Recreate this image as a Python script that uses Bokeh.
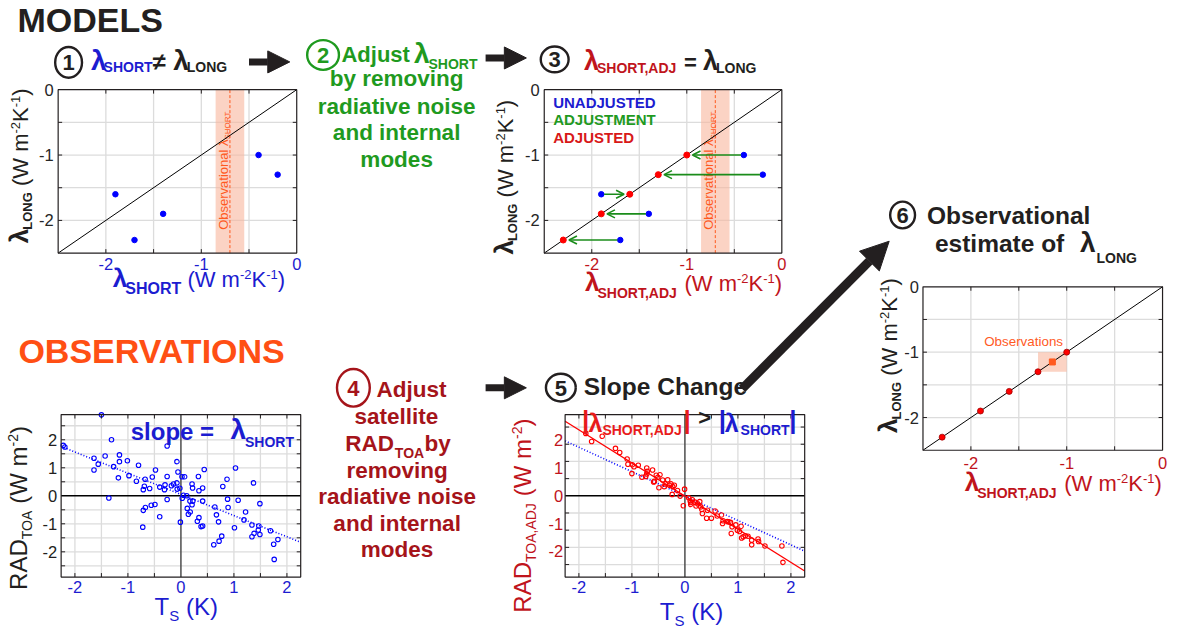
import numpy as np
from bokeh.plotting import figure
from bokeh.models import Range1d, Arrow, NormalHead, OpenHead, ColumnDataSource
from bokeh.core.properties import value
from bokeh.embed import file_html
from bokeh.resources import INLINE

# ---------------- data ----------------
# climate models: short-term vs long-term feedback (W m-2 K-1)
model_short = [-1.9, -1.7, -1.4, -0.4, -0.2]
model_long = [-1.6, -2.3, -1.9, -1.0, -1.3]
model_short_adj = [-1.6, -2.3, -1.9, -1.0, -1.3]
one_to_one = [-2.5, 0.0]
obs_band = [-0.85, -0.55]
obs_short = [-0.7]
obs_box = [-1.3, -1.0]
obs_est = [-1.15]
model_ticks = [-2, -1, 0]
model_grid = [-2.0, -1.5, -1.0, -0.5]

# observations: surface temperature anomaly (K) vs TOA radiation (W m-2)
ts_obs = [
    -2.22, -2.19, -1.50, -1.31, -1.64, -1.64, -1.56, -1.43, -1.16, -1.16,
    -1.27, -1.18, -1.01, -0.98, -0.80, -0.84, -1.36, -0.675, -0.69, -0.71,
    -0.59, -0.48, -0.54, -0.26, -0.26, -0.40, -0.30, -0.31, -0.18, -0.14,
    -0.075, -0.056, -0.075, -0.07, -0.02, -0.26, -0.49, -0.56, -0.67, -0.71,
    -0.40, -0.72, -0.01, 0.02, 0.07, 0.05, 0.11, 0.025, 0.21, 0.22,
    0.33, 0.44, 0.41, 0.34, 0.17, 0.21, 0.12, 0.175, 0.14, 0.225,
    0.41, 0.34, 0.31, 0.38, 0.41, 0.64, 0.67, 0.71, 0.79, 0.87,
    0.88, 0.89, 1.03, 1.08, 1.01, 0.77, 0.72, 0.62, 1.19, 1.22,
    1.37, 1.34, 1.49, 1.47, 1.46, 1.49, 1.38, 1.34, 1.69, 1.75,
    1.83, 1.76]
rad_obs = [
    1.80, 1.74, 2.89, 2.00, 1.34, 0.92, 1.13, 1.42, 1.46, 1.22,
    1.04, 0.64, 1.25, 0.72, 1.09, 0.52, -0.08, 0.59, 0.34, 0.22,
    0.26, 0.92, 0.67, 1.78, 0.69, 0.31, 0.39, 0.22, 0.36, 0.42,
    1.22, 0.85, 0.46, 0.24, 0.27, -0.13, -0.31, -0.34, -0.42, -0.52,
    -0.75, -1.12, -0.94, 0.68, 0.68, 0.02, 0.00, -0.09, 0.42, 0.28,
    0.69, 0.94, 0.28, 0.18, -0.19, -0.32, -0.45, -0.58, -0.66, -0.19,
    -0.19, -0.78, -0.91, -1.10, -1.08, -0.40, -0.68, -0.93, 0.33, 0.59,
    -0.12, -0.42, 0.99, -0.16, -1.14, -1.44, -1.62, -1.75, -0.86, -0.58,
    0.46, -1.04, -0.28, -1.08, -1.22, -1.38, -1.34, -1.46, -1.25, -1.73,
    -1.56, -2.27]
ts_adj = [
    -1.87, -1.76, -1.56, -1.31, -1.23, -1.09, -1.075, -0.99, -0.96, -0.88,
    -1.0, -0.81, -0.74, -0.72, -0.71, -0.61, -0.54, -0.51, -0.47, -0.575,
    -0.49, -0.42, -0.37, -0.325, -0.29, -0.26, -0.23, -0.2, -0.24, -0.14,
    -0.09, -0.006, -0.03, 0.07, 0.1, 0.11, 0.14, 0.19, 0.24, 0.28,
    0.3, 0.32, 0.33, 0.425, 0.41, 0.5, 0.57, 0.61, 0.69, 0.71,
    0.72, 0.8, 0.83, 0.875, 0.89, 0.96, 0.99, 1.03, 1.06, 1.07,
    1.1, 1.14, 1.19, 1.26, 1.26, 1.38, 1.39, 1.51, 1.83, 1.85,
    -0.72, -0.59, -0.39, 0.11, 0.21, 0.86]
rad_adj = [
    2.25, 1.96, 2.15, 1.71, 1.56, 1.33, 1.14, 1.12, 1.05, 1.1,
    0.8, 0.67, 0.7, 1.0, 0.88, 0.93, 0.74, 0.67, 0.76, 0.52,
    0.29, 0.57, 0.43, 0.58, 0.38, 0.43, 0.33, 0.38, 0.05, 0.19,
    -0.01, 0.24, -0.36, -0.07, -0.19, -0.31, -0.14, -0.23, -0.29, -0.21,
    -0.4, -0.49, -0.64, -0.52, -0.81, -0.81, -0.55, -0.73, -0.69, -1.0,
    -0.9, -0.93, -0.94, -1.36, -1.12, -1.05, -1.24, -1.29, -1.1, -1.52,
    -1.48, -1.44, -1.46, -1.6, -1.77, -1.56, -1.65, -1.81, -1.81, -2.4,
    0.79, 0.5, 0.33, -0.24, -0.37, -0.96]
fit_x = [-2.26, 2.26]
fit_obs_y = [1.76, -1.66]
fit_obs5_y = [1.98, -2.0]
fit_adj_y = [2.69, -2.71]
ts_ticks = [-2, -1, 0, 1, 2]
ts_grid = [-2.0, -1.5, -1.0, -0.5, 0.5, 1.0, 1.5, 2.0]
rad_ticks = [-2, -1, 0, 1, 2]
rad_grid4 = [-2.5, -2.0, -1.5, -1.0, -0.5, 0.5, 1.0, 1.5, 2.0, 2.5]
rad_grid5 = [-2.48, -1.86, -1.24, -0.62, 0.62, 1.24, 1.86, 2.48]

# ---------------- style ----------------
FONT = "Liberation Sans"
W, H = 1170, 632
RW, RH = 1177, 638
SX, SY = RW / W, RH / H
BLACK = "#231f20"
TICKC = "#262626"
BLUE = "#1c1cd0"
PBLUE = "#0000ff"
GREEN = "#1f9a1f"
AGREEN = "#1a8c1a"
DRED = "#c0141c"
TDRED = "#a5141a"
RED = "#ff0000"
RED5 = "#e81b1b"
ORANGE = "#ff4f14"
OBSC = "#ff5a1f"
BAND = "#f8b59d"
GRID = "#dcdcdc"

# panel frames in page pixels and their data limits
PANELS = {
    "m1": (58, 90, 298, 255, (-2.5, 0.0), (-2.5, 0.0)),
    "m3": (547, 90, 786, 255, (-2.5, 0.0), (-2.5, 0.0)),
    "m6": (928, 289, 1169, 454, (-2.5, 0.0), (-2.5, 0.0)),
    "o4": (61, 418, 302, 582, (-2.26, 2.26), (-2.9, 2.9)),
    "o5": (568, 418, 809, 582, (-2.26, 2.26), (-2.93, 2.93)),
}

p = figure(width=W, height=H, x_range=Range1d(0, RW), y_range=Range1d(RH, 0),
           output_backend="svg", toolbar_location=None, min_border=0,
           x_axis_location=None, y_axis_location=None, outline_line_color=None,
           background_fill_color="white", border_fill_color="white")
p.grid.visible = False

exr, eyr = {}, {}
for name, (L, T, R, B, (x0, x1), (y0, y1)) in PANELS.items():
    kx = (x1 - x0) / (R - L)
    ky = (y1 - y0) / (B - T)
    exr[name] = Range1d(x0 - L * kx, x0 + (RW - L) * kx)
    eyr[name] = Range1d(y1 - (RH - T) * ky, y1 + T * ky)
p.extra_x_ranges = exr
p.extra_y_ranges = eyr


def kxy(name):
    L, T, R, B, (x0, x1), (y0, y1) = PANELS[name]
    return (x1 - x0) / (R - L), (y1 - y0) / (B - T)


def to_px(name, xd):
    L, T, R, B, (x0, x1), (y0, y1) = PANELS[name]
    return L + (xd - x0) / kxy(name)[0]


WR = dict(zip(" ()-,.0123456789=>|", [278, 333, 333, 333, 278, 278] + [556] * 10 + [584, 584, 260]))
WR.update(dict(zip("ABCDEFGHIJKLMNOPQRSTUVWXYZ",
                   [667, 667, 722, 722, 667, 611, 778, 722, 278, 500, 667, 556, 833, 722, 778, 667, 778, 722, 667, 611, 722, 667, 944, 667, 667, 611])))
WR.update(dict(zip("abcdefghijklmnopqrstuvwxyz",
                   [556, 556, 500, 556, 556, 278, 556, 556, 222, 222, 500, 222, 833, 556, 556, 556, 556, 333, 500, 278, 556, 500, 722, 500, 500, 500])))
WR["λ"] = 500
WR["≠"] = 584
WB = dict(zip(" ()-,.0123456789=>|", [278, 333, 333, 333, 278, 278] + [556] * 10 + [584, 584, 280]))
WB.update(dict(zip("ABCDEFGHIJKLMNOPQRSTUVWXYZ",
                   [722, 722, 722, 722, 667, 611, 778, 722, 278, 556, 722, 611, 833, 722, 778, 667, 778, 722, 667, 611, 722, 667, 944, 667, 667, 611])))
WB.update(dict(zip("abcdefghijklmnopqrstuvwxyz",
                   [556, 611, 556, 611, 556, 333, 611, 611, 278, 278, 556, 278, 889, 611, 611, 611, 611, 389, 556, 333, 611, 556, 778, 556, 556, 500])))
WB["λ"] = 556
WB["≠"] = 584

MID = 0.33  # distance (em) from alphabetic baseline to text middle


def tw(s, size, bold):
    t = WB if bold else WR
    return sum(t.get(c, 556) for c in s) * size / 1000.0


def txt(x, y, s, size, color, bold=False, align="left", baseline="alphabetic",
        angle=0.0, xr="default", yr="default"):
    if baseline == "alphabetic":
        if angle == 0:
            y = y - MID * size * SY
        else:
            x = x - MID * size * SX
        baseline = "middle"
    p.text(x=[x], y=[y], text=[s], text_font=value(FONT), text_font_size=f"{size}px",
           text_font_style="bold" if bold else "normal", text_color=color,
           text_align=align, text_baseline=baseline, angle=angle,
           x_range_name=xr, y_range_name=yr)


def rich(x, y, segs, vertical=False):
    """Lay out text runs one after another (sub/superscripts via dy)."""
    pos = 0.0
    scale = SY if vertical else SX
    for seg in segs:
        s, size, bold, color, dy = seg[:5]
        dx = seg[5] if len(seg) > 5 else 0.0
        pos += dx
        lead = len(s) - len(s.lstrip(" "))
        if lead:  # leading blanks collapse in SVG: advance instead
            pos += tw(" " * lead, size, bold) * scale
            s = s.lstrip(" ")
        if vertical:
            txt(x + dy, y - pos, s, size, color, bold, angle=np.pi / 2)
        else:
            txt(x + pos, y + dy, s, size, color, bold)
        pos += tw(s, size, bold) * scale


def grid(name, xg, yg):
    L, T, R, B, (x0, x1), (y0, y1) = PANELS[name]
    kw = dict(x_range_name=name, y_range_name=name)
    p.segment(x0=xg, y0=[y0] * len(xg), x1=xg, y1=[y1] * len(xg), line_color=GRID, line_width=1.3, **kw)
    p.segment(x0=[x0] * len(yg), y0=yg, x1=[x1] * len(yg), y1=yg, line_color=GRID, line_width=1.3, **kw)


def box(name, xg, yg):
    L, T, R, B, (x0, x1), (y0, y1) = PANELS[name]
    kx, ky = kxy(name)
    kw = dict(x_range_name=name, y_range_name=name)
    tl = 4.0
    n, m = len(xg), len(yg)
    p.segment(x0=xg, y0=[y0] * n, x1=xg, y1=[y0 + tl * ky] * n, line_color=BLACK, line_width=1, **kw)
    p.segment(x0=xg, y0=[y1] * n, x1=xg, y1=[y1 - tl * ky] * n, line_color=BLACK, line_width=1, **kw)
    p.segment(x0=[x0] * m, y0=yg, x1=[x0 + tl * kx] * m, y1=yg, line_color=BLACK, line_width=1, **kw)
    p.segment(x0=[x1] * m, y0=yg, x1=[x1 - tl * kx] * m, y1=yg, line_color=BLACK, line_width=1, **kw)
    p.quad(left=[x0], right=[x1], bottom=[y0], top=[y1], fill_color=None,
           line_color=BLACK, line_width=1.2, **kw)


def xticklabels(name, ticks, base_y, color):
    for t in ticks:
        txt(t, base_y, str(t), 16.5, color, align="center", xr=name)


def yticklabels(name, ticks, right_x, color):
    for t in ticks:
        txt(right_x, t, str(t), 16.5, color, align="right", baseline="middle", yr=name)


def numbered(cx, cy, w, h, digit, color):
    p.ellipse(x=[cx], y=[cy], width=[w], height=[h], fill_color="white",
              line_color=color, line_width=2.4)
    txt(cx, cy + 0.5, digit, 22, color, True, align="center", baseline="middle")


def black_arrow(xs, ys, xe, ye, lw, size):
    p.add_layout(Arrow(start=None, end=NormalHead(size=size, fill_color=BLACK, line_color=BLACK),
                       x_start=xs, y_start=ys, x_end=xe, y_end=ye,
                       line_width=lw, line_color=BLACK))


def lam_ylabel(x, y, color):
    rich(x, y, [("λ", 26, True, color, 0), ("LONG", 13, True, color, 4, -1),
                (" (W m", 22, False, color, 0), ("-2", 13, False, color, -8),
                ("K", 22, False, color, 0), ("-1", 13, False, color, -8),
                (")", 22, False, color, 0)], vertical=True)


def lam_xlabel(x, y, sub, color, subsize):
    rich(x, y, [("λ", 26, True, color, 0), (sub, subsize, True, color, 7, -2),
                (" (W m", 22, False, color, 0), ("-2", 13, False, color, -8),
                ("K", 22, False, color, 0), ("-1", 13, False, color, -8),
                (")", 22, False, color, 0)])


def band(name):
    L, T, R, B, (x0, x1), (y0, y1) = PANELS[name]
    kw = dict(x_range_name=name, y_range_name=name)
    p.quad(left=[obs_band[0]], right=[obs_band[1]], bottom=[y0], top=[y1],
           fill_color=BAND, fill_alpha=0.6, line_color=None, **kw)
    p.segment(x0=obs_short, y0=[y0], x1=obs_short, y1=[y1], line_color=OBSC,
              line_width=1, line_dash="3 2", **kw)
    bx = to_px(name, obs_short[0]) - 2.5
    rich(bx, 231.5, [("Observational ", 13, False, OBSC, 0), ("λ", 13, False, OBSC, 0),
                     ("SHORT", 8, False, OBSC, 3)], vertical=True)


# ================= MODELS =================
txt(17, 31.5, "MODELS", 34, BLACK, True)

# --- panel 1 ---
grid("m1", model_grid, model_grid)
band("m1")
p.line(one_to_one, one_to_one, line_color="black", line_width=1, x_range_name="m1", y_range_name="m1")
p.scatter(model_short, model_long, size=5.5, fill_color=PBLUE, line_color=PBLUE,
          x_range_name="m1", y_range_name="m1")
box("m1", model_grid, model_grid)
yticklabels("m1", model_ticks, 53.5, TICKC)
xticklabels("m1", model_ticks, 272, BLUE)
lam_xlabel(113, 289, "SHORT", BLUE, 16)
lam_ylabel(27, 245, BLACK)

numbered(68.5, 62.5, 27, 31, "1", BLACK)
rich(91, 70, [("λ", 28, True, BLUE, 0), ("SHORT", 14, True, BLUE, 2, -3),
              ("≠ ", 24, True, BLACK, 0), ("λ", 28, True, BLACK, 0),
              ("LONG", 14, True, BLACK, 2, -2)])
black_arrow(250, 62, 291, 62, 7, 22)

# --- step 2 text ---
numbered(324.5, 55, 32, 30, "2", GREEN)
rich(343, 62, [("Adjust", 22, True, GREEN, 0), ("λ", 28, True, GREEN, 1, 4),
               ("SHORT", 14, True, GREEN, 7, -1)])
for line, by in [("by removing", 86.7), ("radiative noise", 114), ("and internal", 141), ("modes", 167.7)]:
    txt(398.5, by, line, 22.5, GREEN, True, align="center")
black_arrow(488, 58, 529, 58, 7, 22)

# --- panel 3 ---
grid("m3", model_grid, model_grid)
band("m3")
p.line(one_to_one, one_to_one, line_color="black", line_width=1, x_range_name="m3", y_range_name="m3")
sgn = np.sign(np.array(model_short_adj) - np.array(model_short))
arr_src = ColumnDataSource(dict(
    xs=list(np.array(model_short) + 0.03 * sgn), ys=model_long,
    xe=list(np.array(model_short_adj) - 0.06 * sgn), ye=model_long))
p.add_layout(Arrow(start=None, end=OpenHead(size=8, line_color=AGREEN, line_width=1.6),
                   x_start="xs", y_start="ys", x_end="xe", y_end="ye", source=arr_src,
                   line_color=AGREEN, line_width=1.6, x_range_name="m3", y_range_name="m3"))
p.scatter(model_short, model_long, size=5.5, fill_color=PBLUE, line_color=PBLUE,
          x_range_name="m3", y_range_name="m3")
p.scatter(model_short_adj, model_long, size=6, fill_color=RED, line_color=RED,
          x_range_name="m3", y_range_name="m3")
box("m3", model_grid, model_grid)
yticklabels("m3", model_ticks, 542.5, TICKC)
xticklabels("m3", model_ticks, 272, DRED)
lam_xlabel(588, 293, "SHORT,ADJ", DRED, 14)
lam_ylabel(515, 256.5, BLACK)
txt(556, 108, "UNADJUSTED", 15, BLUE, True)
txt(556, 125.5, "ADJUSTMENT", 15, GREEN, True)
txt(556, 143, "ADJUSTED", 15, "#d81818", True)

numbered(557.5, 59.5, 28, 26, "3", BLACK)
rich(587, 70, [("λ", 27, True, DRED, 0), ("SHORT,ADJ", 14, True, DRED, 3, -2),
               (" = ", 22, True, BLACK, 0), ("λ", 27, True, BLACK, 0),
               ("LONG", 14, True, BLACK, 3, -2)])

# ================= OBSERVATIONS =================
txt(18, 365, "OBSERVATIONS", 34, ORANGE, True)

# --- panel 4 ---
grid("o4", ts_grid, rad_grid4)
p.segment(x0=[fit_x[0]], y0=[0], x1=[fit_x[1]], y1=[0], line_color="black", line_width=1.6,
          x_range_name="o4", y_range_name="o4")
p.segment(x0=[0], y0=[-2.9], x1=[0], y1=[2.9], line_color="#4d4d4d", line_width=1.5,
          x_range_name="o4", y_range_name="o4")
p.line(fit_x, fit_obs_y, line_color=PBLUE, line_width=1.6, line_dash="1 2",
       x_range_name="o4", y_range_name="o4")
p.scatter(ts_obs, rad_obs, size=4.5, fill_color=None, line_color=PBLUE, line_width=1.1,
          x_range_name="o4", y_range_name="o4")
box("o4", ts_grid, rad_grid4)
yticklabels("o4", rad_ticks, 57, BLACK)
xticklabels("o4", ts_ticks, 598, BLUE)
rich(155, 620, [("T", 24, False, BLUE, 0), ("S", 15, False, BLUE, 6), (" (K)", 24, False, BLUE, 0)])
rich(26, 595, [("RAD", 24, False, BLACK, 0), ("TOA", 14, False, BLACK, 5),
               (" (W m", 24, False, BLACK, 0), ("-2", 14, False, BLACK, -9),
               (")", 24, False, BLACK, 0)], vertical=True)
rich(131, 442.7, [("slope =  ", 24, True, BLUE, 0), ("λ", 28, True, BLUE, 0, 3),
                  ("SHORT", 14, True, BLUE, 7.5, -1)])

# --- step 4 text ---
numbered(355, 391, 33, 38, "4", TDRED)
txt(378.3, 400, "Adjust", 22.5, TDRED, True)
txt(398.3, 427.3, "satellite", 22.5, TDRED, True, align="center")
rich(346.7, 454.3, [("RAD", 22.5, True, TDRED, 0), ("TOA", 14, True, TDRED, 7.4, 1),
                    ("by", 22.5, True, TDRED, 0)])
for line, by in [("removing", 481.7), ("radiative noise", 508.3), ("and internal", 535), ("modes", 561.7)]:
    txt(399, by, line, 22.5, TDRED, True, align="center")
black_arrow(488, 391, 529, 391, 7, 22)

# --- panel 5 ---
grid("o5", ts_grid, rad_grid5)
p.segment(x0=[fit_x[0]], y0=[0], x1=[fit_x[1]], y1=[0], line_color="black", line_width=1.6,
          x_range_name="o5", y_range_name="o5")
p.segment(x0=[0], y0=[-2.93], x1=[0], y1=[2.93], line_color="#4d4d4d", line_width=1.5,
          x_range_name="o5", y_range_name="o5")
p.line(fit_x, fit_obs5_y, line_color=PBLUE, line_width=1.6, line_dash="1 2",
       x_range_name="o5", y_range_name="o5")
p.line(fit_x, fit_adj_y, line_color=RED, line_width=1.3, x_range_name="o5", y_range_name="o5")
p.scatter(ts_adj, rad_adj, size=4.5, fill_color=None, line_color=RED, line_width=1.1,
          x_range_name="o5", y_range_name="o5")
box("o5", ts_grid, rad_grid5)
yticklabels("o5", rad_ticks, 566, DRED)
xticklabels("o5", ts_ticks, 598, BLUE)
rich(663.3, 625, [("T", 24, False, BLUE, 0), ("S", 15, False, BLUE, 6), (" (K)", 24, False, BLUE, 0)])
rich(533, 618, [("RAD", 24, False, DRED, 0), ("TOA,ADJ", 14, False, DRED, 5),
                (" (W m", 24, False, DRED, 0), ("-2", 14, False, DRED, -9),
                (")", 24, False, DRED, 0)], vertical=True)
txt(585, 432, "|", 26, RED5, True)
txt(591.5, 435, "λ", 25, RED5, True)
txt(605.5, 438, "SHORT,ADJ", 14, RED5, True)
txt(687, 432, "|", 26, RED5, True)
txt(702, 428, ">", 22, BLACK, True)
txt(722.5, 432, "|", 26, BLUE, True)
txt(728.5, 435, "λ", 25, BLUE, True)
txt(744.5, 438, "SHORT", 14, BLUE, True)
txt(793.5, 432, "|", 26, BLUE, True)

numbered(563.7, 390.8, 30, 28, "5", BLACK)
txt(586.7, 398.3, "Slope Change", 24.5, BLACK, True)

# big arrow to step 6
black_arrow(746, 392, 894, 243, 9, 28)

# --- panel 6 ---
grid("m6", model_grid, model_grid)
p.quad(left=[obs_box[0]], right=[obs_box[1]], bottom=[obs_box[0]], top=[obs_box[1]],
       fill_color=BAND, fill_alpha=0.6, line_color=None, x_range_name="m6", y_range_name="m6")
p.line(one_to_one, one_to_one, line_color="black", line_width=1, x_range_name="m6", y_range_name="m6")
p.scatter(model_short_adj, model_long, size=6, fill_color=RED, line_color="#a00000", line_width=0.8,
          x_range_name="m6", y_range_name="m6")
p.scatter(obs_est, obs_est, size=6, marker="square", fill_color=OBSC, line_color=OBSC,
          x_range_name="m6", y_range_name="m6")
txt(to_px("m6", -1.45), 348.3, "Observations", 13.4, OBSC, align="center")
box("m6", model_grid, model_grid)
yticklabels("m6", model_ticks, 924, TICKC)
xticklabels("m6", model_ticks, 472, DRED)
lam_xlabel(970, 495, "SHORT,ADJ", DRED, 14)
lam_ylabel(901.5, 436.5, BLACK)

numbered(907.5, 216.5, 25, 27, "6", BLACK)
txt(932, 225, "Observational", 24.5, BLACK, True)
rich(940, 253.5, [("estimate of ", 24.5, True, BLACK, 0), ("λ", 28, True, BLACK, 0, 9),
                  ("LONG", 14, True, BLACK, 11, 1)])

open("out.html", "w").write(file_html(p, INLINE))
